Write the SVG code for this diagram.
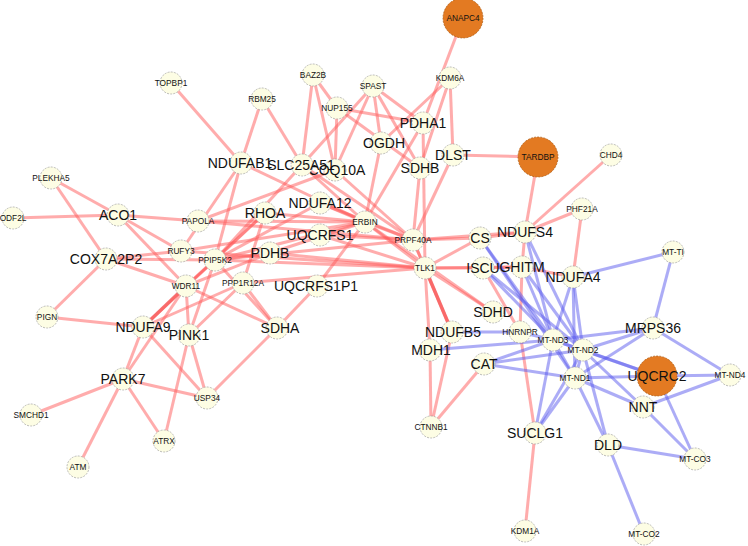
<svg xmlns="http://www.w3.org/2000/svg" width="748" height="546" viewBox="0 0 748 546">
<style>
.r{stroke:#ff5a5a;stroke-opacity:.5;stroke-width:3;fill:none}
.rd{stroke:#ee3030;stroke-opacity:.65;stroke-width:3.5;fill:none}
.b{stroke:#5a5aee;stroke-opacity:.5;stroke-width:3;fill:none}
.n circle{fill:#fdfde4;stroke:#a0a0a0;stroke-width:.7;stroke-dasharray:2 1.2}
.o circle{fill:#e37a22;stroke:#a85810;stroke-width:.7;stroke-dasharray:2 1.2}
text{font-family:"Liberation Sans",Arial,sans-serif;fill:#111;text-anchor:middle}
.s text{font-size:8.3px}
.l text{font-size:14px}
</style>
<rect width="748" height="546" fill="#fff"/>
<g id="edges">
<line class="r" x1="171" y1="83" x2="241" y2="163"/>
<line class="r" x1="262" y1="99" x2="241" y2="163"/>
<line class="r" x1="262" y1="99" x2="302" y2="165"/>
<line class="r" x1="313" y1="75" x2="337" y2="108"/>
<line class="r" x1="313" y1="75" x2="302" y2="165"/>
<line class="r" x1="313" y1="75" x2="335" y2="170"/>
<line class="r" x1="337" y1="108" x2="335" y2="170"/>
<line class="r" x1="337" y1="108" x2="423" y2="123"/>
<line class="r" x1="337" y1="108" x2="420" y2="168"/>
<line class="r" x1="373" y1="86" x2="302" y2="165"/>
<line class="r" x1="373" y1="86" x2="335" y2="170"/>
<line class="r" x1="373" y1="86" x2="423" y2="123"/>
<line class="r" x1="373" y1="86" x2="420" y2="168"/>
<line class="r" x1="373" y1="86" x2="381" y2="143"/>
<line class="r" x1="463" y1="18" x2="423" y2="123"/>
<line class="r" x1="450" y1="78" x2="453" y2="155"/>
<line class="r" x1="450" y1="78" x2="381" y2="143"/>
<line class="r" x1="450" y1="78" x2="420" y2="168"/>
<line class="r" x1="453" y1="155" x2="538" y2="157"/>
<line class="r" x1="423" y1="123" x2="365" y2="222"/>
<line class="r" x1="381" y1="143" x2="365" y2="222"/>
<line class="r" x1="420" y1="168" x2="413" y2="240"/>
<line class="r" x1="453" y1="155" x2="413" y2="240"/>
<line class="r" x1="423" y1="123" x2="425" y2="268"/>
<line class="r" x1="538" y1="157" x2="525" y2="232"/>
<line class="r" x1="611" y1="155" x2="525" y2="232"/>
<line class="r" x1="582" y1="209" x2="573" y2="277"/>
<line class="r" x1="582" y1="209" x2="525" y2="232"/>
<line class="r" x1="241" y1="163" x2="181" y2="251"/>
<line class="r" x1="241" y1="163" x2="215" y2="260"/>
<line class="r" x1="241" y1="163" x2="365" y2="222"/>
<line class="r" x1="302" y1="165" x2="215" y2="260"/>
<line class="r" x1="302" y1="165" x2="365" y2="222"/>
<line class="r" x1="302" y1="165" x2="413" y2="240"/>
<line class="r" x1="335" y1="170" x2="413" y2="240"/>
<line class="r" x1="335" y1="170" x2="198" y2="221"/>
<line class="r" x1="51" y1="178" x2="118" y2="215"/>
<line class="r" x1="51" y1="178" x2="106" y2="259"/>
<line class="r" x1="13" y1="218" x2="118" y2="215"/>
<line class="r" x1="118" y1="215" x2="198" y2="221"/>
<line class="r" x1="118" y1="215" x2="181" y2="251"/>
<line class="r" x1="118" y1="215" x2="186" y2="286"/>
<line class="r" x1="106" y1="259" x2="181" y2="251"/>
<line class="r" x1="106" y1="259" x2="215" y2="260"/>
<line class="r" x1="106" y1="259" x2="186" y2="286"/>
<line class="r" x1="106" y1="259" x2="47" y2="317"/>
<line class="r" x1="47" y1="317" x2="143" y2="327"/>
<line class="rd" x1="143" y1="327" x2="186" y2="286"/>
<line class="r" x1="143" y1="327" x2="215" y2="260"/>
<line class="r" x1="143" y1="327" x2="123" y2="379"/>
<line class="r" x1="143" y1="327" x2="207" y2="398"/>
<line class="r" x1="143" y1="327" x2="243" y2="283"/>
<line class="r" x1="189" y1="335" x2="186" y2="286"/>
<line class="r" x1="189" y1="335" x2="215" y2="260"/>
<line class="r" x1="189" y1="335" x2="243" y2="283"/>
<line class="r" x1="189" y1="335" x2="207" y2="398"/>
<line class="r" x1="189" y1="335" x2="164" y2="441"/>
<line class="r" x1="123" y1="379" x2="31" y2="415"/>
<line class="r" x1="123" y1="379" x2="78" y2="467"/>
<line class="r" x1="123" y1="379" x2="164" y2="441"/>
<line class="r" x1="123" y1="379" x2="207" y2="398"/>
<line class="r" x1="123" y1="379" x2="186" y2="286"/>
<line class="r" x1="207" y1="398" x2="277" y2="328"/>
<line class="r" x1="277" y1="328" x2="243" y2="283"/>
<line class="r" x1="277" y1="328" x2="215" y2="260"/>
<line class="r" x1="277" y1="328" x2="317" y2="286"/>
<line class="r" x1="277" y1="328" x2="186" y2="286"/>
<line class="r" x1="198" y1="221" x2="365" y2="222"/>
<line class="r" x1="198" y1="221" x2="413" y2="240"/>
<line class="r" x1="181" y1="251" x2="365" y2="222"/>
<line class="r" x1="181" y1="251" x2="425" y2="268"/>
<line class="r" x1="215" y1="260" x2="365" y2="222"/>
<line class="r" x1="215" y1="260" x2="413" y2="240"/>
<line class="r" x1="215" y1="260" x2="425" y2="268"/>
<line class="r" x1="215" y1="260" x2="265" y2="213"/>
<line class="r" x1="215" y1="260" x2="320" y2="203"/>
<line class="r" x1="215" y1="260" x2="270" y2="253"/>
<line class="r" x1="243" y1="283" x2="265" y2="213"/>
<line class="r" x1="243" y1="283" x2="425" y2="268"/>
<line class="r" x1="186" y1="286" x2="265" y2="213"/>
<line class="r" x1="186" y1="286" x2="270" y2="253"/>
<line class="r" x1="186" y1="286" x2="215" y2="260"/>
<line class="r" x1="270" y1="253" x2="365" y2="222"/>
<line class="r" x1="270" y1="253" x2="425" y2="268"/>
<line class="r" x1="265" y1="213" x2="365" y2="222"/>
<line class="r" x1="320" y1="203" x2="365" y2="222"/>
<line class="r" x1="320" y1="203" x2="413" y2="240"/>
<line class="r" x1="320" y1="235" x2="425" y2="268"/>
<line class="r" x1="320" y1="235" x2="413" y2="240"/>
<line class="r" x1="317" y1="286" x2="365" y2="222"/>
<line class="r" x1="365" y1="222" x2="413" y2="240"/>
<line class="r" x1="365" y1="222" x2="425" y2="268"/>
<line class="r" x1="413" y1="240" x2="480" y2="238"/>
<line class="r" x1="413" y1="240" x2="525" y2="232"/>
<line class="r" x1="413" y1="240" x2="425" y2="268"/>
<line class="r" x1="425" y1="268" x2="480" y2="238"/>
<line class="r" x1="425" y1="268" x2="483" y2="268"/>
<line class="r" x1="425" y1="268" x2="522" y2="267"/>
<line class="r" x1="425" y1="268" x2="493" y2="312"/>
<line class="rd" x1="425" y1="268" x2="452" y2="332"/>
<line class="r" x1="425" y1="268" x2="430" y2="350"/>
<line class="r" x1="413" y1="240" x2="452" y2="332"/>
<line class="r" x1="365" y1="222" x2="493" y2="312"/>
<line class="r" x1="480" y1="238" x2="525" y2="232"/>
<line class="r" x1="483" y1="268" x2="522" y2="267"/>
<line class="r" x1="522" y1="267" x2="573" y2="277"/>
<line class="r" x1="525" y1="232" x2="522" y2="267"/>
<line class="r" x1="522" y1="267" x2="520" y2="332"/>
<line class="r" x1="483" y1="268" x2="520" y2="332"/>
<line class="r" x1="520" y1="332" x2="535" y2="433"/>
<line class="r" x1="452" y1="332" x2="431" y2="427"/>
<line class="r" x1="430" y1="350" x2="431" y2="427"/>
<line class="r" x1="484" y1="364" x2="431" y2="427"/>
<line class="r" x1="535" y1="433" x2="525" y2="531"/>
<line class="b" x1="573" y1="277" x2="673" y2="252"/>
<line class="b" x1="653" y1="328" x2="673" y2="252"/>
<line class="b" x1="653" y1="328" x2="553" y2="340"/>
<line class="b" x1="653" y1="328" x2="583" y2="350"/>
<line class="b" x1="653" y1="328" x2="730" y2="375"/>
<line class="b" x1="653" y1="328" x2="575" y2="378"/>
<line class="b" x1="573" y1="277" x2="553" y2="340"/>
<line class="b" x1="573" y1="277" x2="583" y2="350"/>
<line class="b" x1="573" y1="277" x2="575" y2="378"/>
<line class="b" x1="480" y1="238" x2="553" y2="340"/>
<line class="b" x1="480" y1="238" x2="575" y2="378"/>
<line class="b" x1="483" y1="268" x2="553" y2="340"/>
<line class="b" x1="483" y1="268" x2="583" y2="350"/>
<line class="b" x1="522" y1="267" x2="553" y2="340"/>
<line class="b" x1="522" y1="267" x2="583" y2="350"/>
<line class="b" x1="525" y1="232" x2="553" y2="340"/>
<line class="b" x1="525" y1="232" x2="583" y2="350"/>
<line class="b" x1="553" y1="340" x2="583" y2="350"/>
<line class="b" x1="553" y1="340" x2="575" y2="378"/>
<line class="b" x1="583" y1="350" x2="575" y2="378"/>
<line class="b" x1="553" y1="340" x2="657" y2="376"/>
<line class="b" x1="583" y1="350" x2="657" y2="376"/>
<line class="b" x1="575" y1="378" x2="657" y2="376"/>
<line class="b" x1="575" y1="378" x2="643" y2="407"/>
<line class="b" x1="583" y1="350" x2="643" y2="407"/>
<line class="b" x1="643" y1="407" x2="730" y2="375"/>
<line class="b" x1="643" y1="407" x2="695" y2="459"/>
<line class="b" x1="657" y1="376" x2="730" y2="375"/>
<line class="b" x1="657" y1="376" x2="695" y2="459"/>
<line class="b" x1="608" y1="445" x2="695" y2="459"/>
<line class="b" x1="608" y1="445" x2="644" y2="534"/>
<line class="b" x1="608" y1="445" x2="575" y2="378"/>
<line class="b" x1="608" y1="445" x2="583" y2="350"/>
<line class="b" x1="535" y1="433" x2="553" y2="340"/>
<line class="b" x1="535" y1="433" x2="583" y2="350"/>
<line class="b" x1="535" y1="433" x2="575" y2="378"/>
<line class="b" x1="484" y1="364" x2="553" y2="340"/>
<line class="b" x1="484" y1="364" x2="583" y2="350"/>
<line class="b" x1="484" y1="364" x2="575" y2="378"/>
<line class="b" x1="430" y1="350" x2="553" y2="340"/>
<line class="b" x1="452" y1="332" x2="520" y2="332"/>
<line class="b" x1="520" y1="332" x2="553" y2="340"/>
</g>
<g id="nodes">
<g id="ANAPC4" class="o s"><circle cx="463" cy="18" r="20"/><text x="463" y="21">ANAPC4</text></g>
<g id="TARDBP" class="o s"><circle cx="538" cy="157" r="20"/><text x="538" y="160">TARDBP</text></g>
<g id="UQCRC2" class="o l"><circle cx="657" cy="376" r="20"/><text x="657" y="381">UQCRC2</text></g>
<g id="TOPBP1" class="n s"><circle cx="171" cy="83" r="11"/><text x="171" y="86">TOPBP1</text></g>
<g id="RBM25" class="n s"><circle cx="262" cy="99" r="11"/><text x="262" y="102">RBM25</text></g>
<g id="BAZ2B" class="n s"><circle cx="313" cy="75" r="11"/><text x="313" y="78">BAZ2B</text></g>
<g id="NUP155" class="n s"><circle cx="337" cy="108" r="11"/><text x="337" y="111">NUP155</text></g>
<g id="SPAST" class="n s"><circle cx="373" cy="86" r="11"/><text x="373" y="89">SPAST</text></g>
<g id="KDM6A" class="n s"><circle cx="450" cy="78" r="11"/><text x="450" y="81">KDM6A</text></g>
<g id="CHD4" class="n s"><circle cx="611" cy="155" r="11"/><text x="611" y="158">CHD4</text></g>
<g id="PLEKHA5" class="n s"><circle cx="51" cy="178" r="11"/><text x="51" y="181">PLEKHA5</text></g>
<g id="ODF2L" class="n s"><circle cx="13" cy="218" r="11"/><text x="13" y="221">ODF2L</text></g>
<g id="PAPOLA" class="n s"><circle cx="198" cy="221" r="11"/><text x="198" y="224">PAPOLA</text></g>
<g id="RUFY3" class="n s"><circle cx="181" cy="251" r="11"/><text x="181" y="254">RUFY3</text></g>
<g id="PPIP5K2" class="n s"><circle cx="215" cy="260" r="11"/><text x="215" y="263">PPIP5K2</text></g>
<g id="WDR11" class="n s"><circle cx="186" cy="286" r="11"/><text x="186" y="289">WDR11</text></g>
<g id="PPP1R12A" class="n s"><circle cx="243" cy="283" r="11"/><text x="243" y="286">PPP1R12A</text></g>
<g id="PIGN" class="n s"><circle cx="47" cy="317" r="11"/><text x="47" y="320">PIGN</text></g>
<g id="USP34" class="n s"><circle cx="207" cy="398" r="11"/><text x="207" y="401">USP34</text></g>
<g id="SMCHD1" class="n s"><circle cx="31" cy="415" r="11"/><text x="31" y="418">SMCHD1</text></g>
<g id="ATRX" class="n s"><circle cx="164" cy="441" r="11"/><text x="164" y="444">ATRX</text></g>
<g id="ATM" class="n s"><circle cx="78" cy="467" r="11"/><text x="78" y="470">ATM</text></g>
<g id="ERBIN" class="n s"><circle cx="365" cy="222" r="11"/><text x="365" y="225">ERBIN</text></g>
<g id="PRPF40A" class="n s"><circle cx="413" cy="240" r="11"/><text x="413" y="243">PRPF40A</text></g>
<g id="TLK1" class="n s"><circle cx="425" cy="268" r="11"/><text x="425" y="271">TLK1</text></g>
<g id="PHF21A" class="n s"><circle cx="582" cy="209" r="11"/><text x="582" y="212">PHF21A</text></g>
<g id="MT-TI" class="n s"><circle cx="673" cy="252" r="11"/><text x="673" y="255">MT-TI</text></g>
<g id="HNRNPR" class="n s"><circle cx="520" cy="332" r="11"/><text x="520" y="335">HNRNPR</text></g>
<g id="MT-ND3" class="n s"><circle cx="553" cy="340" r="11"/><text x="553" y="343">MT-ND3</text></g>
<g id="MT-ND2" class="n s"><circle cx="583" cy="350" r="11"/><text x="583" y="353">MT-ND2</text></g>
<g id="MT-ND1" class="n s"><circle cx="575" cy="378" r="11"/><text x="575" y="381">MT-ND1</text></g>
<g id="MT-ND4" class="n s"><circle cx="730" cy="375" r="11"/><text x="730" y="378">MT-ND4</text></g>
<g id="MT-CO3" class="n s"><circle cx="695" cy="459" r="11"/><text x="695" y="462">MT-CO3</text></g>
<g id="MT-CO2" class="n s"><circle cx="644" cy="534" r="11"/><text x="644" y="537">MT-CO2</text></g>
<g id="CTNNB1" class="n s"><circle cx="431" cy="427" r="11"/><text x="431" y="430">CTNNB1</text></g>
<g id="KDM1A" class="n s"><circle cx="525" cy="531" r="11"/><text x="525" y="534">KDM1A</text></g>
<g id="PDHA1" class="n l"><circle cx="423" cy="123" r="11"/><text x="423" y="128">PDHA1</text></g>
<g id="OGDH" class="n l"><circle cx="381" cy="143" r="11"/><text x="384" y="148">OGDH</text></g>
<g id="SDHB" class="n l"><circle cx="420" cy="168" r="11"/><text x="420" y="173">SDHB</text></g>
<g id="DLST" class="n l"><circle cx="453" cy="155" r="11"/><text x="453" y="160">DLST</text></g>
<g id="COQ10A" class="n l"><circle cx="335" cy="170" r="11"/><text x="337" y="175">COQ10A</text></g>
<g id="NDUFAB1" class="n l"><circle cx="241" cy="163" r="11"/><text x="240" y="168">NDUFAB1</text></g>
<g id="SLC25A51" class="n l"><circle cx="302" cy="165" r="11"/><text x="301" y="170">SLC25A51</text></g>
<g id="ACO1" class="n l"><circle cx="118" cy="215" r="11"/><text x="118" y="220">ACO1</text></g>
<g id="COX7A2P2" class="n l"><circle cx="106" cy="259" r="11"/><text x="106" y="264">COX7A2P2</text></g>
<g id="RHOA" class="n l"><circle cx="265" cy="213" r="11"/><text x="265" y="218">RHOA</text></g>
<g id="NDUFA12" class="n l"><circle cx="320" cy="203" r="11"/><text x="320" y="208">NDUFA12</text></g>
<g id="UQCRFS1" class="n l"><circle cx="320" cy="235" r="11"/><text x="320" y="240">UQCRFS1</text></g>
<g id="PDHB" class="n l"><circle cx="270" cy="253" r="11"/><text x="270" y="258">PDHB</text></g>
<g id="UQCRFS1P1" class="n l"><circle cx="317" cy="286" r="11"/><text x="316" y="291">UQCRFS1P1</text></g>
<g id="NDUFA9" class="n l"><circle cx="143" cy="327" r="11"/><text x="143" y="332">NDUFA9</text></g>
<g id="PINK1" class="n l"><circle cx="189" cy="335" r="11"/><text x="189" y="340">PINK1</text></g>
<g id="SDHA" class="n l"><circle cx="277" cy="328" r="11"/><text x="280" y="333">SDHA</text></g>
<g id="PARK7" class="n l"><circle cx="123" cy="379" r="11"/><text x="123" y="384">PARK7</text></g>
<g id="CS" class="n l"><circle cx="480" cy="238" r="11"/><text x="480" y="243">CS</text></g>
<g id="NDUFS4" class="n l"><circle cx="525" cy="232" r="11"/><text x="525" y="237">NDUFS4</text></g>
<g id="ISCU" class="n l"><circle cx="483" cy="268" r="11"/><text x="483" y="273">ISCU</text></g>
<g id="GHITM" class="n l"><circle cx="522" cy="267" r="11"/><text x="522" y="272">GHITM</text></g>
<g id="NDUFA4" class="n l"><circle cx="573" cy="277" r="11"/><text x="573" y="282">NDUFA4</text></g>
<g id="SDHD" class="n l"><circle cx="493" cy="312" r="11"/><text x="493" y="317">SDHD</text></g>
<g id="NDUFB5" class="n l"><circle cx="452" cy="332" r="11"/><text x="453" y="337">NDUFB5</text></g>
<g id="MDH1" class="n l"><circle cx="430" cy="350" r="11"/><text x="431" y="355">MDH1</text></g>
<g id="CAT" class="n l"><circle cx="484" cy="364" r="11"/><text x="484" y="369">CAT</text></g>
<g id="MRPS36" class="n l"><circle cx="653" cy="328" r="11"/><text x="653" y="333">MRPS36</text></g>
<g id="NNT" class="n l"><circle cx="643" cy="407" r="11"/><text x="643" y="412">NNT</text></g>
<g id="SUCLG1" class="n l"><circle cx="535" cy="433" r="11"/><text x="535" y="438">SUCLG1</text></g>
<g id="DLD" class="n l"><circle cx="608" cy="445" r="11"/><text x="608" y="450">DLD</text></g>
</g>
</svg>
